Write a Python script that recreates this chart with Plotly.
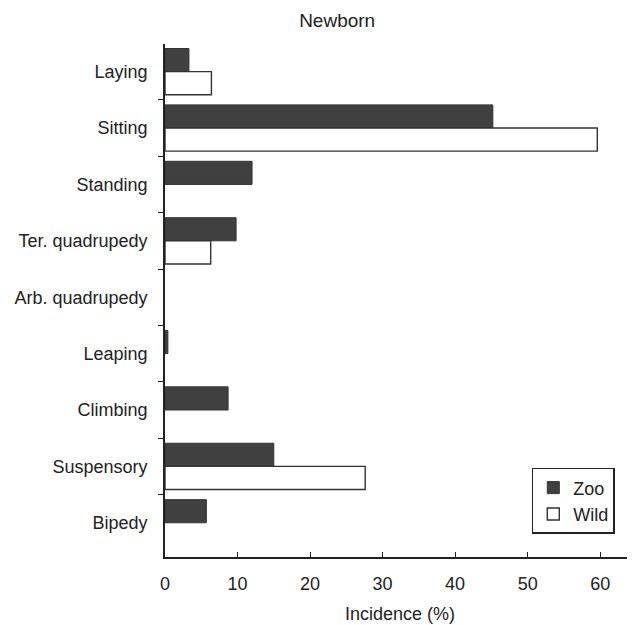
import plotly.graph_objects as go

categories = ["Laying", "Sitting", "Standing", "Ter. quadrupedy", "Arb. quadrupedy",
              "Leaping", "Climbing", "Suspensory", "Bipedy"]
zoo = [3.3, 45.2, 12.0, 9.8, 0, 0.4, 8.7, 15.0, 5.7]
wild = [6.4, 59.6, 0, 6.3, 0, 0, 0, 27.6, 0]
x_ticks = [0, 10, 20, 30, 40, 50, 60]

FAM = "Liberation Sans, Arial, sans-serif"
INK = "#222"

fig = go.Figure()
fig.add_trace(go.Bar(y=categories, x=zoo, orientation="h", name="Zoo",
                     marker=dict(color="#404040",
                                 line=dict(color="#333", width=[1 if v else 0 for v in zoo]))))
fig.add_trace(go.Bar(y=categories, x=wild, orientation="h", name="Wild",
                     marker=dict(color="white",
                                 line=dict(color="#333", width=[1.4 if v else 0 for v in wild]))))

fig.update_layout(
    width=627, height=617,
    margin=dict(l=157, r=0, t=36, b=68),
    paper_bgcolor="white", plot_bgcolor="white",
    font=dict(family=FAM, size=18, color=INK),
    barmode="group", bargap=0.18, bargroupgap=0,
    title=dict(text="Newborn", x=0.525, xanchor="center", y=0.98, yanchor="middle",
               font=dict(size=19, family=FAM, color=INK)),
    showlegend=True,
    legend=dict(x=0.957, xanchor="right", y=0.045, yanchor="bottom",
                bordercolor=INK, borderwidth=1.5, bgcolor="white",
                font=dict(size=18, family=FAM, color=INK),
                itemwidth=30, tracegroupgap=0, traceorder="normal"),
)
fig.update_xaxes(range=[0, 64.8], tickvals=x_ticks, ticks="inside", ticklen=5,
                 tickcolor=INK, showline=True, linecolor=INK, linewidth=1.6,
                 showgrid=False, zeroline=False, ticklabelstandoff=10,
                 title=dict(text="Incidence (%)", standoff=14, font=dict(size=18)))
fig.update_yaxes(categoryorder="array", categoryarray=categories,
                 range=[8.607, -0.49], tickson="boundaries", ticks="outside", ticklen=5,
                 tickcolor=INK, showline=True, linecolor=INK, linewidth=1.6,
                 showgrid=False, zeroline=False, ticklabelstandoff=12)

fig.write_html("out.html")
